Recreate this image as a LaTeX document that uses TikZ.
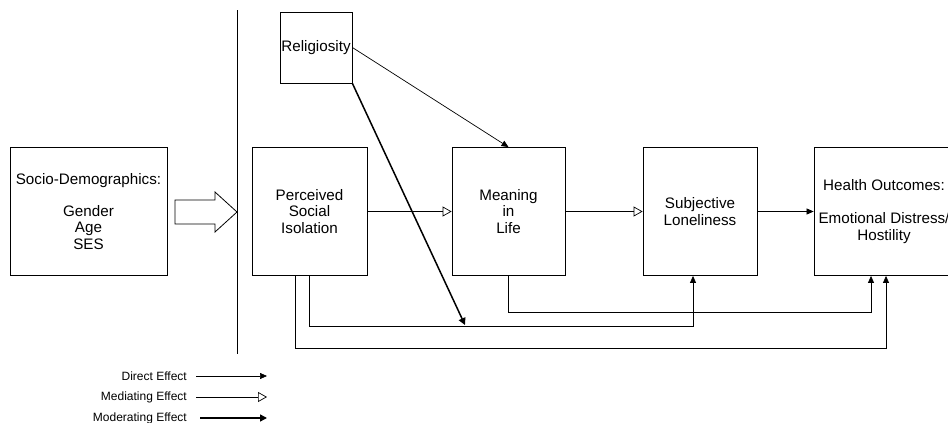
\documentclass[tikz,border=0pt]{standalone}
\usepackage{fontspec}
\setmainfont{Liberation Sans}
\usetikzlibrary{arrows.meta}

\begin{document}
\begin{tikzpicture}[x=1pt,y=-1pt]
					\tikzstyle{block} = [rectangle,draw=black,line width=0.8pt,fill=white,align=center,inner sep=0pt,minimum height=128pt,font=\fontsize{15.2}{16.5}\selectfont]
					\tikzstyle{direct} = [line width=0.7pt,-{Triangle[length=7pt,width=6pt]}]
					\tikzstyle{mediating} = [line width=0.7pt,-{Triangle[open,length=9pt,width=10pt]}]
					\tikzstyle{moderating} = [line width=1.5pt,-{Triangle[length=7pt,width=7pt]}]
					\tikzstyle{legend} = [anchor=east,inner sep=0pt,font=\fontsize{12}{14}\selectfont]
					\clip (0,0) rectangle (948,423);
					\node[block,minimum width=157pt] (socio) at (88.5,211.5) {Socio-Demographics:\\[15.5pt]Gender\\Age\\SES};
					\node[block,minimum width=115pt] (per) at (309.5,211.5) {Perceived\\Social\\Isolation};
					\node[block,minimum width=113pt] (mea) at (508.5,211.5) {Meaning\\in\\Life};
					\node[block,minimum width=114pt] (sub) at (700,211.5) {Subjective\\Loneliness};
					\node[block,minimum width=140pt] (hea) at (884,211.5) {Health Outcomes:\\[16.5pt]Emotional Distress/\\Hostility};
					\node[block,minimum width=72pt,minimum height=71pt] (rel) at (316,47.5) {Religiosity};
					\draw[line width=0.8pt] (175,200) -- (215,200) -- (215,192) -- (237,212) -- (215,232) -- (215,224) -- (175,224) -- cycle;
					\draw[line width=0.8pt] (237,10) -- (237,354);
					\draw[mediating] (per) -- (mea);
					\draw[mediating] (mea) -- (sub);
					\draw[direct] (sub) -- (hea);
					\draw[direct] (rel.east) -- (mea.north);
					\draw[direct] (mea.south) -- ++(0,36) -| ([xshift=-13pt]hea.south);
					\draw[direct] (per.south) -- ++(0,50) -| ([xshift=-7pt]sub.south);
					\draw[direct] ([xshift=-14.5pt]per.south) -- ++(0,72) -| ([xshift=2pt]hea.south);
					\coordinate (mod) at (465,325);
					\draw[moderating] (rel.south east) -- (mod);
					\node[legend] (ldir) at (187,376) {Direct Effect};
					\node[legend] (lmed) at (187,397) {Mediating Effect};
					\node[legend] (lmod) at (187,418) {Moderating Effect};
					\coordinate (edir) at (267,376);
					\coordinate (emed) at (267,397);
					\coordinate (emod) at (267,418);
					\draw[direct] ([xshift=9pt]ldir.east) -- (edir);
					\draw[mediating] ([xshift=9pt]lmed.east) -- (emed);
					\draw[moderating] ([xshift=13pt]lmod.east) -- (emod);
\end{tikzpicture}
\end{document}
